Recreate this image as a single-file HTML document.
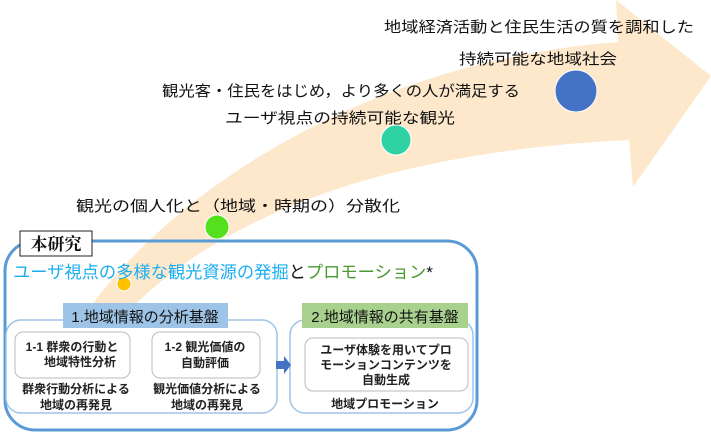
<!DOCTYPE html>
<html><head><meta charset="utf-8"><style>
html,body{margin:0;padding:0;background:#fff;}
svg{display:block;}
text{font-family:"Liberation Sans","Noto Sans CJK JP",sans-serif;}
</style></head><body>
<svg width="711" height="434" viewBox="0 0 711 434" xmlns="http://www.w3.org/2000/svg">
<path d="M85 314 C180 180,380 60,618 42 L616 0 L711 76 L633 187 L629 140 C420 150,230 200,118 322 Z" fill="#fde8cc"/>
<circle cx="124" cy="284" r="7" fill="#ffc000" stroke="#fff" stroke-width="1"/>
<circle cx="217" cy="227" r="12" fill="#55e01e" stroke="#fff" stroke-width="1"/>
<circle cx="396" cy="140" r="15" fill="#2fd3a3" stroke="#fff" stroke-width="1"/>
<circle cx="576" cy="91" r="21" fill="#4472c4" stroke="#fff" stroke-width="1"/>
<g font-size="15" fill="#111">
<text x="384" y="32" textLength="310" lengthAdjust="spacingAndGlyphs">地域経済活動と住民生活の質を調和した</text>
<text x="459" y="64" textLength="158" lengthAdjust="spacingAndGlyphs">持続可能な地域社会</text>
<text x="162" y="96" textLength="358" lengthAdjust="spacingAndGlyphs">観光客・住民をはじめ，より多くの人が満足する</text>
<text x="225" y="123" textLength="230" lengthAdjust="spacingAndGlyphs">ユーザ視点の持続可能な観光</text>
<text x="76" y="211" textLength="324" lengthAdjust="spacingAndGlyphs">観光の個人化と（地域・時期の）分散化</text>
</g>
<rect x="5" y="241" width="472" height="189" rx="30" fill="none" stroke="#5b9bd5" stroke-width="3"/>
<rect x="20" y="231" width="72" height="25" fill="#fff" stroke="#222" stroke-width="1"/>
<text x="56" y="250" font-size="17" font-weight="bold" text-anchor="middle" fill="#111" style="font-family:'Liberation Serif','Noto Serif CJK SC',serif">本研究</text>
<text x="13" y="278" font-size="17" textLength="420" lengthAdjust="spacingAndGlyphs"><tspan fill="#1aaef0">ユーザ視点の多様な観光資源の発掘</tspan><tspan fill="#111">と</tspan><tspan fill="#4a9a30">プロモーション</tspan><tspan fill="#111">*</tspan></text>
<rect x="6" y="320" width="271" height="93" rx="15" fill="#fff" stroke="#9dc3e6" stroke-width="1.5"/>
<rect x="290" y="320" width="183" height="93" rx="15" fill="#fff" stroke="#9dc3e6" stroke-width="1.5"/>
<rect x="63" y="303" width="165" height="25" fill="#9dc3e6"/>
<text x="145" y="322" font-size="15" text-anchor="middle" fill="#111">1.地域情報の分析基盤</text>
<rect x="302" y="303" width="166" height="25" fill="#a9d18e"/>
<text x="385" y="322" font-size="15" text-anchor="middle" fill="#111">2.地域情報の共有基盤</text>
<rect x="15" y="332" width="115" height="46" rx="8" fill="#fff" stroke="#bbb"/>
<rect x="152" y="332" width="108" height="46" rx="8" fill="#fff" stroke="#bbb"/>
<rect x="305" y="338" width="163" height="53" rx="8" fill="#fff" stroke="#bbb"/>
<g font-size="12" font-weight="bold" fill="#222" text-anchor="middle">
<text x="72" y="351">1-1 群衆の行動と</text>
<text x="80" y="366">地域特性分析</text>
<text x="205" y="351">1-2 観光価値の</text>
<text x="205" y="367">自動評価</text>
<text x="386" y="354">ユーザ体験を用いてプロ</text>
<text x="386" y="369">モーションコンテンツを</text>
<text x="386" y="384">自動生成</text>
<text x="76" y="393">群衆行動分析による</text>
<text x="76" y="409">地域の再発見</text>
<text x="207" y="393">観光価値分析による</text>
<text x="207" y="409">地域の再発見</text>
<text x="385" y="408">地域プロモーション</text>
</g>
<path d="M276 361 L284 361 L284 356 L291 365 L284 374 L284 369 L276 369 Z" fill="#4472c4"/>
</svg>
</body></html>
